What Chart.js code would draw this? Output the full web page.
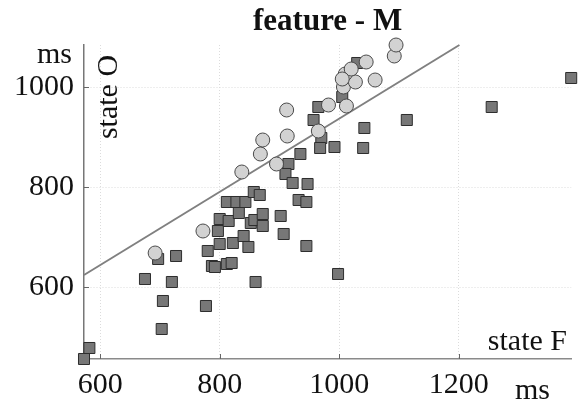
<!DOCTYPE html>
<html>
<head>
<meta charset="utf-8">
<script src="https://cdn.jsdelivr.net/npm/chart.js@4.4.1/dist/chart.umd.min.js"></script>
<style>
  html, body { margin: 0; padding: 0; background: #fff; }
  #wrap { width: 580px; height: 405px; }
</style>
</head>
<body>
<div id="wrap"><canvas id="scatter" width="580" height="405"></canvas></div>
<script>
"use strict";

/* ── Data ─────────────────────────────────────────────────────────────── */
const xTicks = [600, 800, 1000, 1200];
const yTicks = [600, 800, 1000];

// squares (dark markers)
const squareX = [
  573, 582, 675, 697, 727, 720, 705, 703, 777, 780, 787, 792, 797, 800,
  800, 812, 820, 815, 822, 832, 840, 848, 852, 858, 872, 872, 860, 902,
  907, 812, 828, 843, 857, 867, 915, 910, 922, 947, 932, 945, 945, 935,
  957, 970, 968, 992, 1005, 965, 1030, 1042, 1040, 1113, 1255, 1388, 998,
];
const squareY = [
  456, 478, 616, 656, 662, 610, 572, 516, 562, 672, 642, 640, 712, 736,
  686, 646, 648, 732, 688, 748, 702, 680, 728, 734, 746, 722, 610, 742,
  706, 770, 770, 770, 790, 784, 846, 826, 808, 806, 774, 770, 682, 866,
  934, 898, 878, 880, 980, 960, 1048, 918, 878, 934, 960, 1018, 626,
];

// circles (light markers)
const circleX = [
  692, 772, 837, 868, 872, 895, 912, 913, 965, 982,
  1012, 1007, 1027, 1010, 1020, 1045, 1060, 1092, 1095, 1005,
];
const circleY = [
  668, 712, 830, 866, 894, 846, 954, 902, 912, 964,
  962, 1000, 1010, 1026, 1036, 1050, 1014, 1062, 1084, 1016,
];

// fitted line end points
const fitX = [573, 1201];
const fitY = [624, 1084];

/* ── Helpers ─────────────────────────────────────────────────────────── */
const SERIF = "'Liberation Serif', 'DejaVu Serif', serif";
const toPoints = (xs, ys) => xs.map((x, i) => ({ x, y: ys[i] }));

/* ── Text + inner tick marks ─────────────────────────────────────────── */
const decorations = {
  id: "decorations",
  afterDraw(chart) {
    const { ctx, chartArea: a, scales } = chart;
    ctx.save();

    // inward tick marks
    ctx.strokeStyle = "#666";
    ctx.lineWidth = 1;
    ctx.beginPath();
    xTicks.forEach((v) => {
      const px = Math.round(scales.x.getPixelForValue(v)) + 0.5;
      ctx.moveTo(px, a.bottom);
      ctx.lineTo(px, a.bottom - 5);
    });
    yTicks.forEach((v) => {
      const py = Math.round(scales.y.getPixelForValue(v)) + 0.5;
      ctx.moveTo(a.left, py);
      ctx.lineTo(a.left + 5, py);
    });
    ctx.stroke();

    ctx.fillStyle = "#111";

    // title
    ctx.font = `bold 31px ${SERIF}`;
    ctx.textAlign = "center";
    ctx.textBaseline = "alphabetic";
    ctx.fillText("feature - M", (a.left + a.right) / 2, 30);

    ctx.font = `30px ${SERIF}`;

    // unit labels
    ctx.textAlign = "right";
    ctx.fillText("ms", 72, 63);
    ctx.textAlign = "left";
    ctx.fillText("ms", 515, 399);

    // state F
    ctx.textAlign = "right";
    ctx.fillText("state F", 567, 350);

    // state O (rotated)
    ctx.translate(117, 97);
    ctx.rotate(-Math.PI / 2);
    ctx.textAlign = "center";
    ctx.fillText("state O", 0, 0);

    ctx.restore();
  },
};

/* ── Chart ───────────────────────────────────────────────────────────── */
function initScatter() {
  const canvas = document.getElementById("scatter");
  const ctx = canvas.getContext("2d");

  new Chart(ctx, {
    type: "scatter",
    data: {
      datasets: [
        {
          data: toPoints(circleX, circleY),
          pointStyle: "circle",
          pointRadius: 7,
          backgroundColor: "#d2d2d2",
          borderColor: "#4a4a4a",
          borderWidth: 1,
          order: 1,
          clip: false,
        },
        {
          data: toPoints(squareX, squareY),
          pointStyle: "rect",
          pointRadius: 7.8,
          backgroundColor: "#777777",
          borderColor: "#2e2e2e",
          borderWidth: 1,
          order: 2,
          clip: false,
        },
        {
          type: "line",
          data: toPoints(fitX, fitY),
          borderColor: "#808080",
          borderWidth: 2,
          pointRadius: 0,
          fill: false,
          order: 3,
          clip: false,
        },
      ],
    },
    options: {
      responsive: false,
      animation: false,
      events: [],
      layout: { padding: { top: 45, right: 7, left: 0, bottom: 0 } },
      plugins: {
        legend: { display: false },
        tooltip: { enabled: false },
        title: { display: false },
      },
      scales: {
        x: {
          type: "linear",
          min: 573,
          max: 1388,
          afterBuildTicks: (s) => { s.ticks = xTicks.map((v) => ({ value: v })); },
          afterFit: (s) => { s.height = 46; },
          grid: { color: "#dcdcdc", lineWidth: 1, drawTicks: false },
          border: { display: true, color: "#8a8a8a", width: 1.5, dash: [1, 2] },
          ticks: {
            color: "#111",
            padding: 8,
            maxRotation: 0,
            font: { family: SERIF, size: 30 },
            callback: (v) => String(v),
          },
        },
        y: {
          type: "linear",
          min: 456,
          max: 1084,
          afterBuildTicks: (s) => { s.ticks = yTicks.map((v) => ({ value: v })); },
          afterFit: (s) => { s.width = 84; },
          grid: { color: "#dcdcdc", lineWidth: 1, drawTicks: false },
          border: { display: true, color: "#777", width: 1.5, dash: [1, 2] },
          ticks: {
            color: "#111",
            padding: 10,
            font: { family: SERIF, size: 30 },
            callback: (v) => String(v),
          },
        },
      },
    },
    plugins: [decorations],
  });
}

document.addEventListener("DOMContentLoaded", initScatter);
</script>
</body>
</html>
